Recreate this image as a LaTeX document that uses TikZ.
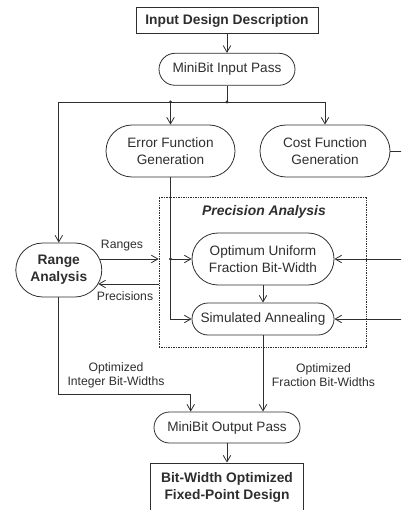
\documentclass[tikz,border=0pt]{standalone}
\usepackage{fontspec}
\setmainfont{Liberation Sans}
\usetikzlibrary{arrows.meta,calc,shapes.misc}

\newcommand\flowfont{\fontsize{13.6}{16.7}\selectfont}
\newcommand\flowbold{\fontsize{13.8}{16.9}\selectfont\bfseries}
\newcommand\flowboldit{\fontsize{13.9}{16.9}\selectfont\bfseries\itshape}
\newcommand\tagfont{\fontsize{12.2}{14}\selectfont}

\colorlet{ink}{black!82}

\tikzset{
  pill/.style={rounded rectangle, draw=ink, text=ink, align=center, inner sep=0pt, font=\flowfont},
  plainbox/.style={rectangle, draw=ink, text=ink, align=center, inner sep=0pt, font=\flowbold},
  flowarrow/.style={-{Straight Barb[length=6.5pt,width=7.5pt]}},
  lbl/.style={align=center, text=ink, font=\tagfont, inner sep=0pt},
  junction/.style={circle, fill=ink, inner sep=0pt, minimum size=3.2pt}
}

\begin{document}
\begin{tikzpicture}[x=1pt, y=-1pt, line width=0.8pt, draw=ink]
\clip (0,0) rectangle (401,510);

% main blocks
\node[plainbox, minimum width=182pt, minimum height=26.4pt] (inp) at (227,20.5) {Input Design Description};
\node[pill, minimum width=136pt, minimum height=32pt] (mbin) at (227,69.3) {MiniBit Input Pass};
\node[pill, minimum width=129pt, minimum height=52pt] (err) at (170.5,151) {Error Function\\Generation};
\node[pill, minimum width=130pt, minimum height=52pt] (cost) at (325,151) {Cost Function\\Generation};
\node[pill, minimum width=86pt, minimum height=54pt, font=\flowbold] (rng) at (58.8,270) {Range\\Analysis};

% precision analysis group
\node[draw=ink, densely dotted, line width=0.7pt, minimum width=207.5pt, minimum height=150pt, inner sep=0pt] (pa) at (262.75,272) {};
\node[text=ink, font=\flowboldit, inner sep=0pt] (pat) at (264,212) {Precision Analysis};
\node[pill, minimum width=142pt, minimum height=52pt] (opt) at (263,259) {Optimum Uniform\\Fraction Bit-Width};
\node[pill, minimum width=142pt, minimum height=32pt] (sim) at (263,319) {Simulated Annealing};

\node[pill, minimum width=146pt, minimum height=31pt] (mbout) at (227,427.5) {MiniBit Output Pass};
\node[plainbox, minimum width=153pt, minimum height=49pt] (out) at (227,487.5) {Bit-Width Optimized\\Fixed-Point Design};

% connector labels
\node[lbl] (lr) at (122,246) {Ranges};
\node[lbl] (lp) at (125,296.5) {Precisions};
\node[lbl] (li) at (116,375) {Optimized\\Integer Bit-Widths};
\node[lbl] (lf) at (323.5,375) {Optimized\\Fraction Bit-Widths};

% distribution from the input pass
\coordinate (jmid) at (mbin.south |- 0,102);
\coordinate (jl) at (rng.north |- jmid);
\coordinate (jerr) at (err.north |- jmid);
\coordinate (jc) at (cost.north |- jmid);
\coordinate (edge) at (410,0);

\draw[flowarrow] (inp.south) -- (mbin.north);
\draw (mbin.south) -- (jmid);
\draw (jl) -- (jc);
\draw[flowarrow] (jl) -- (rng.north);
\draw[flowarrow] (jerr) -- (err.north);
\draw[flowarrow] (jc) -- (cost.north);
\node[junction] (d1) at (jmid) {};
\node[junction] (d2) at (jerr) {};

% cost function output and side inputs
\draw (cost.east) -- (cost.east -| edge);
\draw[flowarrow] (opt.east -| edge) -- (opt.east);
\draw[flowarrow] (sim.east -| edge) -- (sim.east);

% error function feeds both optimisers
\coordinate (ej) at (err.south |- opt.west);
\draw[flowarrow] (err.south) |- (sim.west);
\draw[flowarrow] (ej) -- (opt.west);
\node[junction] (d3) at (ej) {};
\draw[flowarrow] (opt.south) -- (sim.north);

% ranges / precisions exchange
\coordinate (rs) at ($(rng.east)+(-2.4,-11)$);
\coordinate (pr) at ($(rng.east)+(-3.9,14)$);
\draw[flowarrow] (rs) -- (rs -| pa.west);
\draw[flowarrow] (pr -| pa.west) -- (pr);

% results to the output pass
\coordinate (oi) at ($(mbout.north)+(-36.3,0)$);
\draw[flowarrow] (rng.south) |- (oi |- 0,394) -- (oi);
\draw[flowarrow] (sim.south) -- (sim.south |- mbout.north);
\draw[flowarrow] (mbout.south) -- (out.north);
\end{tikzpicture}
\end{document}
